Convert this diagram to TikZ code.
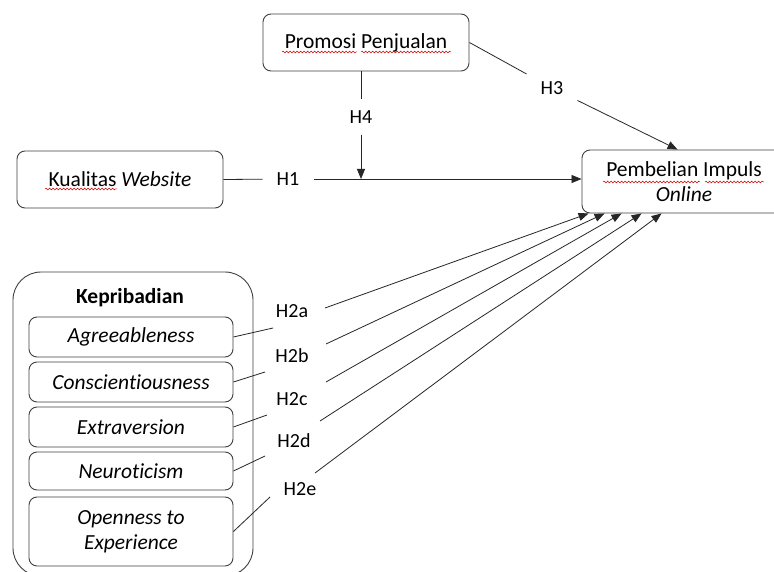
\documentclass[tikz,border=0pt]{standalone}
\usepackage{fontspec}
\setmainfont[Ligatures=NoCommon]{Carlito}
\usetikzlibrary{arrows.meta,decorations.pathmorphing,calc}
\begin{document}
\begin{tikzpicture}[x=1pt,y=-1pt,
  box/.style={draw=black!75, line width=0.9pt, rounded corners=8pt, inner sep=0pt,
    font=\fontsize{21.5}{25}\selectfont, align=center},
  lab/.style={font=\fontsize{20}{24}\selectfont, inner xsep=14pt, inner ysep=11pt},
  hlab/.style={font=\fontsize{20}{24}\selectfont, inner sep=1pt},
  conn/.style={draw=black!85, line width=0.8pt},
  arr/.style={conn, -{Triangle[length=10pt,width=8pt]}},
  wavy/.style={draw=red!80!black, line width=0.5pt, decorate,
    decoration={snake, amplitude=0.9pt, segment length=3.5pt}}]
\clip (0,0) rectangle (774,572);
\fill[white] (0,0) rectangle (774,572);
% main boxes
\node[box, minimum width=206pt, minimum height=57pt] (promo) at (366,42.5) {Promosi Penjualan};
\node[box, minimum width=206pt, minimum height=57pt] (kual) at (120,179.5) {Kualitas \textit{Website}};
\node[box, minimum width=204pt, minimum height=63pt] (pb) at (684,181.5) {Pembelian Impuls\\\textit{Online}};
% personality group
\node[draw=black!75, line width=0.9pt, rounded corners=28pt, minimum width=240pt, minimum height=304pt] (kep) at (133,424) {};
\node[font=\fontsize{21.5}{25}\selectfont\bfseries, inner sep=0pt] (keptitle) at (130,298) {Kepribadian};
\node[box, minimum width=204pt, minimum height=40pt] (agree) at (131,337) {\textit{Agreeableness}};
\node[box, minimum width=204pt, minimum height=40pt] (consc) at (131,382) {\textit{Conscientiousness}};
\node[box, minimum width=204pt, minimum height=40pt] (extra) at (131,427) {\textit{Extraversion}};
\node[box, minimum width=204pt, minimum height=38pt] (neuro) at (131,471) {\textit{Neuroticism}};
\node[box, minimum width=204pt, minimum height=69pt] (open) at (131,531.5) {\textit{Openness to}\\\textit{Experience}};
% labels
\node[lab] (h1) at (288,179) {H1};
\node[lab] (h3) at (552,88) {H3};
\node[lab] (h4) at (361,117) {H4};
\node[hlab] (h2a) at (292,311) {H2a};
\node[hlab] (h2b) at (292,356) {H2b};
\node[hlab] (h2c) at (292,399) {H2c};
\node[hlab] (h2d) at (294,441) {H2d};
\node[hlab] (h2e) at (300,489) {H2e};
% free ends of the H2 connectors
\coordinate (a1) at (273,328); \coordinate (a2) at (325,308);
\coordinate (b1) at (265,372); \coordinate (b2) at (326,344);
\coordinate (c1) at (267,415); \coordinate (c2) at (326,382);
\coordinate (d1) at (265,456); \coordinate (d2) at (320,421);
\coordinate (e1) at (270,497); \coordinate (e2) at (315,473);
\coordinate (m) at (h4 |- h1);
% H1
\draw[conn] (kual.east) -- (h1);
\draw[arr] (h1) -- (pb.west |- h1);
% H4
\draw[conn] (h4 |- promo.south) -- (h4);
\draw[arr] (h4) -- (m);
% H3
\draw[conn] (promo.east) -- (h3);
\draw[arr] (h3) -- ($(pb.north west)+(96,0)$);
% H2
\draw[conn] (agree.east) -- (a1);
\draw[conn] (consc.east) -- (b1);
\draw[conn] (extra.east) -- (c1);
\draw[conn] (neuro.east) -- (d1);
\draw[conn] (open.east) -- (e1);
\draw[arr] (a2) -- ($(pb.south west)+(7,0)$);
\draw[arr] (b2) -- ($(pb.south west)+(23,0)$);
\draw[arr] (c2) -- ($(pb.south west)+(40,0)$);
\draw[arr] (d2) -- ($(pb.south west)+(60,0)$);
\draw[arr] (e2) -- ($(pb.south west)+(80,0)$);
% spell-check underlines
\draw[wavy] (282,52) -- (357,52);
\draw[wavy] (361,52) -- (451,52);
\draw[wavy] (45,189) -- (117,189);
\draw[wavy] (603,182) -- (700,182);
\draw[wavy] (705,182) -- (764,182);
\end{tikzpicture}
\end{document}
